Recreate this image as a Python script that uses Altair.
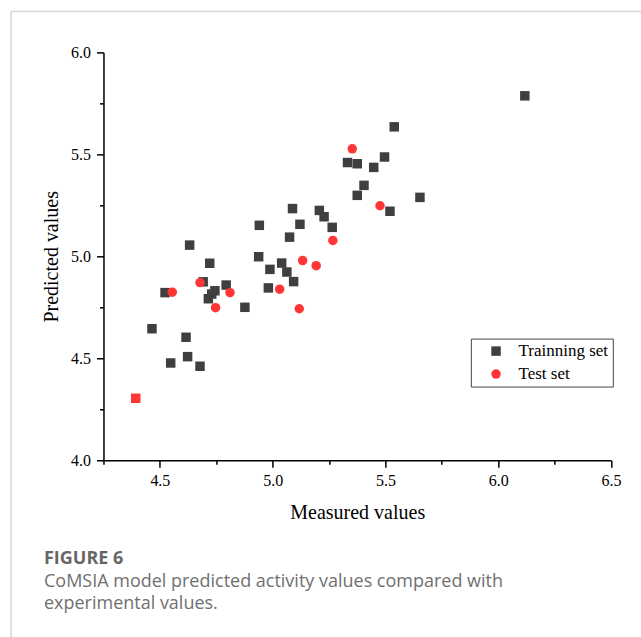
import altair as alt
import pandas as pd

# ---- data ----
train_x = [4.465, 4.523, 4.548, 4.616, 4.623, 4.632, 4.678, 4.692, 4.721, 4.715,
           4.730, 4.744, 4.794, 4.877, 4.941, 4.938, 4.988, 4.981, 5.040, 5.063,
           5.093, 5.088, 5.121, 5.075, 5.207, 5.228, 5.264, 5.332, 5.375, 5.448,
           5.405, 5.375, 5.496, 5.539, 5.520, 5.653, 6.118]
train_y = [4.645, 4.822, 4.477, 4.603, 4.508, 5.055, 4.461, 4.875, 4.966, 4.792,
           4.815, 4.831, 4.859, 4.750, 5.152, 4.998, 4.936, 4.845, 4.967, 4.923,
           4.876, 5.234, 5.157, 5.094, 5.225, 5.194, 5.142, 5.460, 5.454, 5.436,
           5.348, 5.299, 5.487, 5.635, 5.221, 5.289, 5.787]
test_x = [4.555, 4.678, 4.747, 4.811, 5.031, 5.118, 5.133, 5.193, 5.267, 5.353, 5.476]
test_y = [4.824, 4.871, 4.748, 4.822, 4.839, 4.743, 4.979, 4.954, 5.078, 5.527, 5.248]
# one test compound drawn as a red square in the reference
test_sq_x = [4.393]
test_sq_y = [4.304]

x_ticks = [4.25, 4.5, 4.75, 5.0, 5.25, 5.5, 5.75, 6.0, 6.25, 6.5]
y_ticks = [4.0, 4.25, 4.5, 4.75, 5.0, 5.25, 5.5, 5.75, 6.0]
series_names = ["Trainning set", "Test set"]
x_title = "Measured values"
y_title = "Predicted values"
caption_head = ["FIGURE 6"]
caption_line1 = ["CoMSIA model predicted activity values compared with"]
caption_line2 = ["experimental values."]

# ---- tables ----
pts = pd.DataFrame({
    "Measured": train_x + test_x,
    "Predicted": train_y + test_y,
    "Set": [series_names[0]] * len(train_x) + [series_names[1]] * len(test_x),
})
sq = pd.DataFrame({"Measured": test_sq_x, "Predicted": test_sq_y})
head_df = pd.DataFrame({"t": caption_head})
l1_df = pd.DataFrame({"t": caption_line1})
l2_df = pd.DataFrame({"t": caption_line2})

SERIF = "Liberation Serif"
SANS = "Open Sans"
major = "abs(datum.value*2 - round(datum.value*2)) < 0.001"

def axis(ticks, title, tpad, lpad):
    return alt.Axis(
        values=ticks, title=title, grid=False,
        tickSize={"condition": {"test": major, "value": 7}, "value": 4},
        labelExpr=f"{major} ? format(datum.value, '.1f') : ''",
        domainColor="black", tickColor="black", domainWidth=1.5, tickWidth=1.5,
        labelFont=SERIF, labelFontSize=16, labelColor="black",
        labelPadding=lpad, labelFlush=False, labelOverlap=False,
        titleFont=SERIF, titleFontSize=20, titleFontWeight="normal",
        titleColor="black", titlePadding=tpad,
    )

xs = alt.Scale(domain=[4.25, 6.5], nice=False, zero=False)
ys = alt.Scale(domain=[4.0, 6.0], nice=False, zero=False)

points = alt.Chart(pts).mark_point(filled=True, opacity=1, size=90).encode(
    x=alt.X("Measured:Q", scale=xs, axis=axis(x_ticks, x_title, 14, 5)),
    y=alt.Y("Predicted:Q", scale=ys, axis=axis(y_ticks, y_title, 9, 6)),
    color=alt.Color("Set:N", scale=alt.Scale(domain=series_names, range=["#3f3f3f", "#ff3636"]),
                    legend=alt.Legend(
                        title=None, orient="none", legendX=367.5, legendY=286.3,
                        strokeColor="#444", fillColor="white", padding=4,
                        symbolOffset=12.7, labelOffset=14, rowPadding=5,
                        labelFont=SERIF, labelFontSize=17, labelColor="black",
                        symbolSize=90, symbolStrokeWidth=0)),
    shape=alt.Shape("Set:N", scale=alt.Scale(domain=series_names, range=["square", "circle"])),
)

red_sq = alt.Chart(sq).mark_point(filled=True, opacity=1, size=90, shape="square",
                                  color="#ff3636").encode(
    x=alt.X("Measured:Q", scale=xs),
    y=alt.Y("Predicted:Q", scale=ys),
)

frame_left = alt.Chart(head_df).mark_rule(color="#d6d6d6", strokeWidth=1.5).encode(
    x=alt.value(-92.5), y=alt.value(-41), y2=alt.value(600))
frame_top = alt.Chart(head_df).mark_rule(color="#d6d6d6", strokeWidth=1.5).encode(
    x=alt.value(-92.5), x2=alt.value(560), y=alt.value(-41))

head = alt.Chart(head_df).mark_text(
    font=SANS, fontSize=18, fontWeight="bold", color="#666666",
    align="left", baseline="alphabetic").encode(
    x=alt.value(-59.5), y=alt.value(512.0), text="t:N")

cap1 = alt.Chart(l1_df).mark_text(
    font=SANS, fontSize=18, color="#707070", align="left",
    baseline="alphabetic").encode(
    x=alt.value(-59.5), y=alt.value(534.5), text="t:N")
cap2 = alt.Chart(l2_df).mark_text(
    font=SANS, fontSize=18, color="#707070", align="left",
    baseline="alphabetic").encode(
    x=alt.value(-59.5), y=alt.value(557.0), text="t:N")

chart = alt.layer(frame_left, frame_top, points, red_sq, head, cap1, cap2).properties(
    width=507.7, height=408,
    autosize=alt.AutoSizeParams(type="none"),
    padding={"left": 103.5, "top": 52.3, "right": 30, "bottom": 177},
    background="white",
).configure_view(stroke=None)

chart.save("out.html", embed_options={"renderer": "svg", "actions": False})
